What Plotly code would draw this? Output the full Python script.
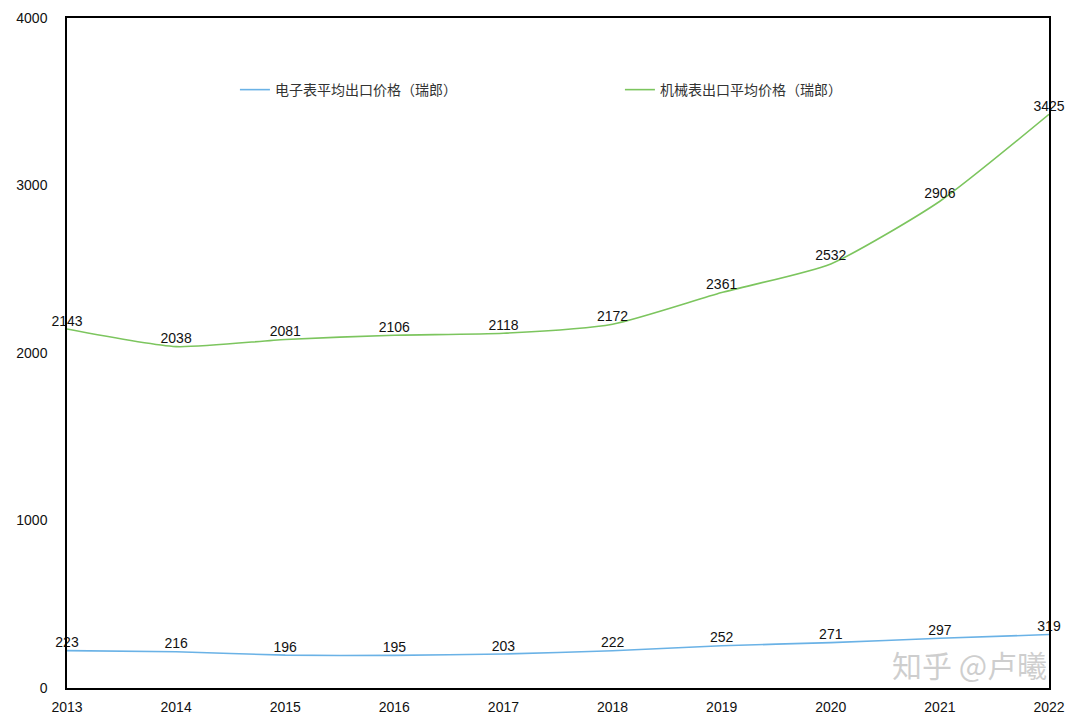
import plotly.graph_objects as go

years = [2013, 2014, 2015, 2016, 2017, 2018, 2019, 2020, 2021, 2022]
electronic = [223, 216, 196, 195, 203, 222, 252, 271, 297, 319]
mechanical = [2143, 2038, 2081, 2106, 2118, 2172, 2361, 2532, 2906, 3425]
name_e = "电子表平均出口价格（瑞郎）"
name_m = "机械表出口平均价格（瑞郎）"
y_ticks = [0, 1000, 2000, 3000, 4000]

FONT = "Liberation Sans, Arial, Noto Sans CJK SC, sans-serif"

fig = go.Figure()
fig.add_trace(go.Scatter(
    x=years, y=electronic, name=name_e, mode="lines+text",
    text=[str(v) for v in electronic], textposition="top center",
    textfont=dict(size=14, color="#111111", family=FONT),
    line=dict(color="#6AB2E6", width=1.6, shape="spline", smoothing=0.6),
    cliponaxis=False,
))
fig.add_trace(go.Scatter(
    x=years, y=mechanical, name=name_m, mode="lines+text",
    text=[str(v) for v in mechanical], textposition="top center",
    textfont=dict(size=14, color="#111111", family=FONT),
    line=dict(color="#7CC55E", width=1.6, shape="spline", smoothing=0.6),
    cliponaxis=False,
))

fig.update_layout(
    width=1080, height=720,
    margin=dict(l=67, r=31, t=18, b=32),
    paper_bgcolor="white", plot_bgcolor="white",
    font=dict(family=FONT, size=14, color="#111111"),
    showlegend=True,
    legend=dict(
        orientation="h", x=0.171, y=0.8925, xanchor="left", yanchor="middle",
        bgcolor="rgba(0,0,0,0)", itemwidth=30, entrywidth=340,
        font=dict(size=14, color="#333333", family="Noto Sans CJK SC, sans-serif"),
    ),
    xaxis=dict(
        range=[2013, 2022], tickvals=years, ticktext=[str(y) for y in years],
        showgrid=False, zeroline=False, showline=True, linecolor="black",
        linewidth=1.5, mirror=True, ticks="", ticklabelstandoff=5,
        automargin=False, tickfont=dict(size=14, color="#111111"),
    ),
    yaxis=dict(
        range=[0, 4000], tickvals=y_ticks, ticktext=[str(v) for v in y_ticks],
        showgrid=False, zeroline=False, showline=True, linecolor="black",
        linewidth=1.5, mirror=True, ticks="", ticklabelstandoff=15,
        automargin=False, tickfont=dict(size=14, color="#111111"),
    ),
)

fig.add_annotation(
    text="知乎 @卢曦", xref="paper", yref="paper", x=1.0, y=0.0,
    xanchor="right", yanchor="bottom", showarrow=False,
    font=dict(size=30, color="rgba(190,190,190,0.75)", family="Noto Sans CJK SC, sans-serif"),
)

fig.write_html("out.html")
